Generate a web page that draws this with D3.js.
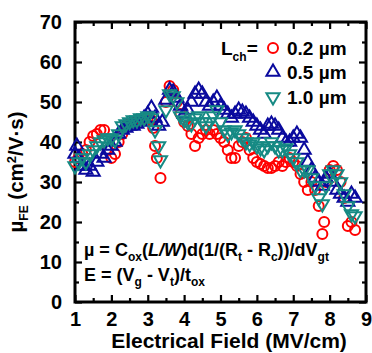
<!DOCTYPE html>
<html><head><meta charset="utf-8">
<script src="https://cdn.jsdelivr.net/npm/d3@7"></script>
<style>
body{margin:0;background:#fff;}
svg{display:block;font-family:"Liberation Sans",Arial,sans-serif;font-weight:bold;}
</style></head><body>
<svg id="c" width="372" height="353"></svg>
<script>
// ---- data ----
const xTicks = [1,2,3,4,5,6,7,8,9];
const yTicks = [0,10,20,30,40,50,60,70];
const seriesNames = ["0.2 \u00b5m","0.5 \u00b5m","1.0 \u00b5m"];
const field02 = [1.0,1.1,1.2,1.3,1.4,1.5,1.6,1.7,1.8,1.9,2.0,2.1,2.2,2.3,2.4,2.5,2.6,2.7,2.8,2.9,3.0,3.1,3.15,3.2,3.25,3.35,3.5,3.6,3.7,3.8,3.9,4.0,4.1,4.2,4.3,4.4,4.5,4.6,4.7,4.8,4.9,5.0,5.1,5.2,5.3,5.4,5.5,5.6,5.7,5.8,5.9,6.0,6.1,6.2,6.3,6.4,6.5,6.6,6.7,6.8,6.9,7.0,7.1,7.2,7.3,7.4,7.5,7.6,7.7,7.8,7.85,7.9,8.0,8.1,8.2,8.3,8.4,8.5,8.6,8.7];
const mu02 = [35,36,37,38,40,41.5,42,43,43,38,36,37,40,42,44,44.5,45,45,45.5,46,46,45.5,43.5,39,36,31,50,54,53,50,47,45,44,42,39,41,42,43,42,43,42,41,40,38,36,36,39,40,41,38,36,35,34.5,34,33.5,33.5,34,35,34,35,36,35,34,32,30,28,30,28,24,17,20,30,33,34,33,30,26,19,20,18];
const field05 = [1.0,1.05,1.1,1.2,1.3,1.4,1.5,1.6,1.7,1.8,1.9,2.0,2.1,2.2,2.3,2.4,2.5,2.6,2.7,2.8,2.9,3.0,3.1,3.2,3.3,3.4,3.5,3.6,3.7,3.8,3.9,4.0,4.1,4.2,4.3,4.4,4.5,4.6,4.7,4.8,4.9,5.0,5.1,5.2,5.3,5.4,5.5,5.6,5.7,5.8,5.9,6.0,6.1,6.2,6.3,6.4,6.5,6.6,6.7,6.8,6.9,7.0,7.1,7.2,7.3,7.4,7.5,7.6,7.7,7.8,7.9,8.0,8.1,8.2,8.3,8.4,8.5,8.6,8.7];
const mu05 = [37,39,36,34,33,34,32.5,35,37,36,38,39,40,42,43,43.5,44,44,44.5,45,46,47,48.5,46,44,45,50.5,53,52.5,51,49,47,48,50,52,53,52,50,49,50,51,49,48,47,46,47,48,47.5,47,46,45,44,43,42,44,44.5,44,43,41,40,40,41,42,41,38,35,33,31,30,29,31,32,30,28,27,26,25,27,26];
const field10 = [1.0,1.1,1.2,1.3,1.4,1.5,1.6,1.7,1.8,1.9,2.0,2.1,2.2,2.3,2.4,2.5,2.6,2.7,2.8,2.9,3.0,3.1,3.2,3.3,3.35,3.5,3.6,3.7,3.8,3.9,4.0,4.1,4.2,4.3,4.4,4.5,4.6,4.7,4.8,4.9,5.0,5.1,5.2,5.3,5.4,5.5,5.6,5.7,5.8,5.9,6.0,6.1,6.2,6.3,6.4,6.5,6.6,6.7,6.8,6.9,7.0,7.1,7.2,7.3,7.4,7.5,7.6,7.7,7.8,7.9,8.0,8.1,8.2,8.3,8.4,8.5,8.6,8.7];
const mu10 = [34,35,36,35,37,38,39,40,40.5,41,41,40.5,42,44,44.5,45,45.5,45.5,46,46,46.5,46,43,39,35.5,48,52,51.5,50,46.5,45.5,45,44.5,46,46.5,45,44,45,46.5,48,45,43,42,42.5,43,42,41,40,39.5,40,39,38.5,38,39,40,39,38,38,38.5,37,36,35,33,33,33,31,29,26,24.5,29,32,33,32,30,27,24,22,21.5];

const colors = ["#ff0000","#0a0a9e","#168a84"];

// ---- layout ----
const svg = d3.select("#c");
const L = 75, R = 366, T = 22, B = 302;
const x = d3.scaleLinear().domain([1,9]).range([L,R]);
const y = d3.scaleLinear().domain([0,70]).range([B,T]);

const xMinor = d3.range(1,9.01,0.5).filter(v=>!xTicks.includes(v));
const yMinor = d3.range(0,70.1,5).filter(v=>!yTicks.includes(v));

function styleAxis(g){
  g.select(".domain").remove();
  g.selectAll(".tick line").attr("stroke","#000").attr("stroke-width",2.2);
  g.selectAll(".tick text").attr("font-family","'Liberation Sans',Arial,sans-serif").attr("font-weight","bold").attr("font-size",20).attr("fill","#000");
}
// bottom
svg.append("g").attr("transform",`translate(0,${B})`)
  .call(d3.axisBottom(x).tickValues(xTicks).tickSize(-7).tickPadding(10).tickFormat(d3.format("d"))).call(styleAxis);
svg.append("g").attr("transform",`translate(0,${B})`)
  .call(d3.axisBottom(x).tickValues(xMinor).tickSize(-4).tickFormat("")).call(styleAxis);
// top
svg.append("g").attr("transform",`translate(0,${T})`)
  .call(d3.axisTop(x).tickValues(xTicks).tickSize(-7).tickFormat("")).call(styleAxis);
svg.append("g").attr("transform",`translate(0,${T})`)
  .call(d3.axisTop(x).tickValues(xMinor).tickSize(-4).tickFormat("")).call(styleAxis);
// left
svg.append("g").attr("transform",`translate(${L},0)`)
  .call(d3.axisLeft(y).tickValues(yTicks).tickSize(-7).tickPadding(13).tickFormat(d3.format("d"))).call(styleAxis);
svg.append("g").attr("transform",`translate(${L},0)`)
  .call(d3.axisLeft(y).tickValues(yMinor).tickSize(-4).tickFormat("")).call(styleAxis);
// right
svg.append("g").attr("transform",`translate(${R},0)`)
  .call(d3.axisRight(y).tickValues(yTicks).tickSize(-7).tickFormat("")).call(styleAxis);
svg.append("g").attr("transform",`translate(${R},0)`)
  .call(d3.axisRight(y).tickValues(yMinor).tickSize(-4).tickFormat("")).call(styleAxis);

// frame
svg.append("rect").attr("x",L).attr("y",T).attr("width",R-L).attr("height",B-T)
  .attr("fill","none").attr("stroke","#000").attr("stroke-width",3);

// ---- markers ----
const symUp = d3.symbol().type(d3.symbolTriangle).size(75);
function drawSeries(fx, fy, idx){
  const g = svg.append("g");
  const data = fx.map((v,i)=>({e:v,m:fy[i]}));
  if(idx===0){
    g.selectAll("circle").data(data).join("circle")
      .attr("cx",d=>x(d.e)).attr("cy",d=>y(d.m)).attr("r",5)
      .attr("fill","none").attr("stroke",colors[0]).attr("stroke-width",2);
  } else {
    g.selectAll("path").data(data).join("path")
      .attr("d",symUp)
      .attr("transform",d=>`translate(${x(d.e)},${y(d.m)})${idx===2?" rotate(180)":""}`)
      .attr("fill","none").attr("stroke",colors[idx]).attr("stroke-width",2);
  }
}
drawSeries(field02, mu02, 0);
drawSeries(field05, mu05, 1);
drawSeries(field10, mu10, 2);

// ---- helper for rich text ----
function seg(t, s, dy, small, italic){
  const ts = t.append("tspan").text(s);
  if(dy) ts.attr("dy",dy);
  if(small) ts.attr("font-size",small);
  if(italic) ts.attr("font-style","italic");
  return ts;
}

// ---- legend ----
const lg = svg.append("g").attr("font-size",19);
const lt = lg.append("text").attr("x",221).attr("y",55);
seg(lt,"L");
seg(lt,"ch",6,12);
seg(lt,"=",-6);
const legY = [48,72,97];
seriesNames.forEach((n,i)=>{
  const cx = 273, cy = legY[i];
  if(i===0){
    lg.append("circle").attr("cx",cx).attr("cy",cy).attr("r",5).attr("fill","none").attr("stroke",colors[0]).attr("stroke-width",2);
  } else {
    lg.append("path").attr("d",symUp).attr("transform",`translate(${cx},${cy})${i===2?" rotate(180)":""}`)
      .attr("fill","none").attr("stroke",colors[i]).attr("stroke-width",2);
  }
  lg.append("text").attr("x",287).attr("y",cy+7).text(n);
});

// ---- equations ----
const eq = svg.append("g").attr("font-size",18);
const e1 = eq.append("text").attr("x",84).attr("y",256);
seg(e1,"\u00b5 = C");
seg(e1,"ox",5,12);
seg(e1,"(",-5);
seg(e1,"L/W",0,0,true);
seg(e1,")d(1/(R");
seg(e1,"t",5,12);
seg(e1," - R",-5);
seg(e1,"c",5,12);
seg(e1,"))/dV",-5);
seg(e1,"gt",5,12);
const e2 = eq.append("text").attr("x",84).attr("y",281);
seg(e2,"E = (V");
seg(e2,"g",5,12);
seg(e2," - V",-5);
seg(e2,"t",5,12);
seg(e2,")/t",-5);
seg(e2,"ox",5,12);

// ---- axis titles ----
svg.append("text").attr("x",229).attr("y",348).attr("text-anchor","middle")
  .attr("font-size",21).text("Electrical Field (MV/cm)");
const yt = svg.append("text").attr("transform",`translate(23,${(T+B)/2+10}) rotate(-90)`)
  .attr("text-anchor","middle").attr("font-size",20.5);
seg(yt,"\u00b5");
seg(yt,"FE",5,12);
seg(yt," (cm",-5);
seg(yt,"2",-7,13);
seg(yt,"/V\u00b7s)",7);
</script>
</body></html>
